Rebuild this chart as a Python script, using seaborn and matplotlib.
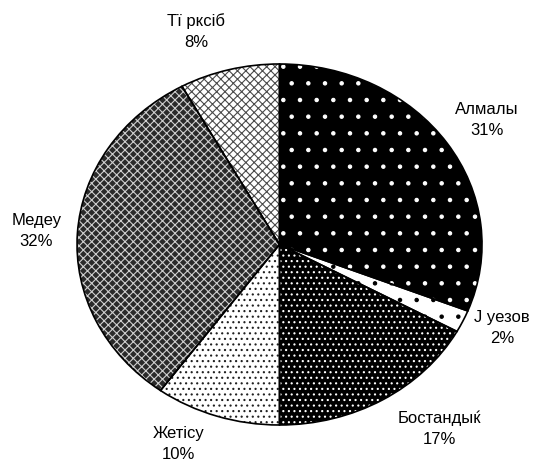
import matplotlib
matplotlib.use('Agg')
import matplotlib.pyplot as plt
import seaborn as sns

# Данные: районы и доли
districts = ['Алмалы', 'Ј уезов', 'Бостандыќ', 'Жетісу', 'Медеу', 'Тї рксіб']
shares = [31, 2, 17, 10, 32, 8]

# Заливка секторов (ч/б штриховка как в Excel)
face_colors = ['#000000', '#ffffff', '#000000', '#ffffff', '#2a2a2a', '#ffffff']
hatches = ['.', '.', '...', '...', 'xxxx', 'xxxx']
hatch_colors = ['#ffffff', '#000000', '#ffffff', '#202020', '#cfcfcf', '#4a4a4a']

# Положения подписей (в координатах круга)
label_pos = [(1.025, 0.69), (1.10, -0.46), (0.79, -1.02),
             (-0.50, -1.105), (-1.20, 0.075), (-0.41, 1.18)]

sns.set_theme(style='white')
plt.rcParams['font.family'] = ['Liberation Sans', 'DejaVu Sans']
plt.rcParams['hatch.linewidth'] = 0.8

fig = plt.figure(figsize=(5.36, 4.61), dpi=100)
ax = fig.add_axes([0.1437, 0.0781, 0.7556, 0.7831])

# Слой 1: заливка со штриховкой
wedges, _ = ax.pie(shares, startangle=90, counterclock=False)
for w, fc, h, hc in zip(wedges, face_colors, hatches, hatch_colors):
    w.set_facecolor(fc)
    w.set_hatch(h)
    w.set_edgecolor(hc)
    w.set_linewidth(0)

# Слой 2: черные границы секторов
ax.pie(shares, startangle=90, counterclock=False,
       wedgeprops=dict(fill=False, edgecolor='black', linewidth=1.2))

ax.set_aspect('auto')
ax.set_xlim(-1, 1)
ax.set_ylim(-1, 1)
ax.axis('off')

# Подписи: название и процент
total = sum(shares)
for name, val, (x, y) in zip(districts, shares, label_pos):
    ax.text(x, y, f'{name}\n{val / total:.0%}', ha='center', va='center',
            fontsize=12, linespacing=1.5, color='black', clip_on=False)

fig.savefig('out.png', dpi=100)
